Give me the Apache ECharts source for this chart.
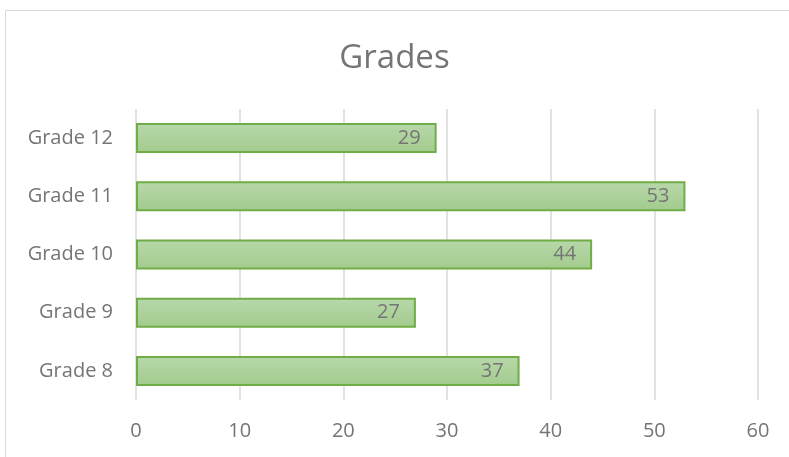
<!DOCTYPE html>
<html>
<head>
<meta charset="utf-8">
<script src="https://cdn.jsdelivr.net/npm/echarts@6/dist/echarts.min.js"></script>
<style>
  html, body { margin: 0; padding: 0; background: #fff; }
  #chart { width: 789px; height: 457px; }
</style>
</head>
<body>
<div id="chart"></div>
<script>
const categories = ['Grade 8', 'Grade 9', 'Grade 10', 'Grade 11', 'Grade 12']
const values = [37, 27, 44, 53, 29]
const xTicks = { min: 0, max: 60, interval: 10 }

let mychart = echarts.init(document.getElementById('chart'))
mychart.setOption({
  animation: false,
  textStyle: { fontFamily: '"Open Sans", sans-serif' },
  // chart frame
  graphic: [{
    type: 'rect',
    shape: { x: 5.5, y: 10.5, width: 800, height: 470 },
    style: { fill: 'none', stroke: '#d9d9d9', lineWidth: 1 },
    silent: true
  }],
  title: {
    text: 'Grades',
    left: 'center',
    top: 37,
    textStyle: { color: '#757575', fontSize: 33, fontWeight: 'normal' }
  },
  grid: { left: 136, right: 31, top: 109, bottom: 57 },
  xAxis: {
    type: 'value',
    min: xTicks.min,
    max: xTicks.max,
    interval: xTicks.interval,
    axisLine: { show: false },
    axisTick: { show: false },
    splitLine: { show: true, lineStyle: { color: '#d9d9d9', width: 1.5 } },
    axisLabel: { color: '#757575', fontSize: 20, margin: 21 }
  },
  yAxis: {
    type: 'category',
    data: categories,
    axisLine: { show: false },
    axisTick: { show: false },
    axisLabel: { color: '#757575', fontSize: 20, margin: 23 }
  },
  series: [{
    type: 'bar',
    data: values,
    barWidth: 30,
    itemStyle: {
      color: {
        type: 'linear', x: 0, y: 0, x2: 0, y2: 1,
        colorStops: [
          { offset: 0, color: '#b8d8aa' },
          { offset: 1, color: '#a2cb8d' }
        ]
      },
      borderColor: '#70ad47',
      borderWidth: 2
    },
    label: {
      show: true,
      position: 'insideRight',
      distance: 16,
      color: '#757575',
      fontSize: 20
    }
  }]
})
</script>
</body>
</html>
